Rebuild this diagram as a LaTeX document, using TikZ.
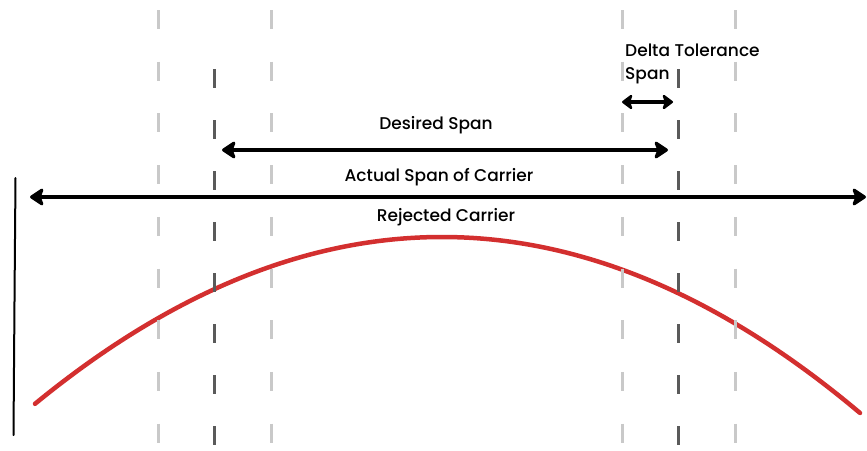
\documentclass[tikz,border=0pt]{standalone}
\usepackage{fontspec}
\setmainfont{Poppins}[UprightFont=* Medium]
\usetikzlibrary{arrows.meta}
\definecolor{lightdash}{HTML}{C9C9C9}
\definecolor{darkdash}{HTML}{5A5A5A}
\definecolor{carrierred}{HTML}{D32F2F}
\tikzset{
  lightline/.style={draw=lightdash, line width=3pt, dash pattern=on 19pt off 32.7pt},
  darkline/.style={draw=darkdash, line width=3pt, dash pattern=on 19pt off 32pt},
  spanarrow/.style={line width=4pt, {Stealth[length=16pt,width=21pt,inset=4pt,round]}-{Stealth[length=16pt,width=21pt,inset=4pt,round]}},
  smallarrow/.style={line width=4.5pt, {Stealth[length=12pt,width=18pt,inset=3pt,round]}-{Stealth[length=12pt,width=18pt,inset=3pt,round]}},
  lbl/.style={font=\fontsize{17}{23}\selectfont, inner sep=0pt}
}
\begin{document}
\begin{tikzpicture}[x=1pt,y=-1pt]
\useasboundingbox (0,0) rectangle (867,450);
% rejected carrier curve
\draw[carrierred, line width=4.5pt, line cap=round]
  plot[domain=35:860, samples=80, smooth] (\x, {237+0.001008*(\x-442)*(\x-442)});
% dashed guide lines
\foreach \n/\xx in {l1/158, l2/271, l3/622, l4/735}{
  \coordinate (\n top) at (\xx,10);
  \coordinate (\n bot) at (\xx,452);
  \draw[lightline] (\n top) -- (\n bot);
}
\foreach \n/\xx in {d1/214, d2/678}{
  \coordinate (\n top) at (\xx,69);
  \coordinate (\n bot) at (\xx,452);
  \draw[darkline] (\n top) -- (\n bot);
}
% left border stroke
\coordinate (bt) at (15.5,178);
\coordinate (bb) at (13.5,435);
\draw[line width=2pt, line cap=round] (bt) .. controls (14.5,300) .. (bb);
% arrows
\coordinate (aL) at (30,197);
\coordinate (aR) at (866,197);
\draw[spanarrow] (aL) -- (aR);
\coordinate (dL) at (222,150);
\coordinate (dR) at (668,150);
\draw[spanarrow] (dL) -- (dR);
\coordinate (tL) at (622,102);
\coordinate (tR) at (673,102);
\draw[smallarrow] (tL) -- (tR);
% labels
\node[lbl] (desired) at (436,125) {Desired Span};
\node[lbl] (actual) at (439,177) {Actual Span of Carrier};
\node[lbl] (rejected) at (446,217) {Rejected Carrier};
\node[lbl, align=left, anchor=north west] (delta) at (625,44) {Delta Tolerance\\Span};
\end{tikzpicture}
\end{document}
